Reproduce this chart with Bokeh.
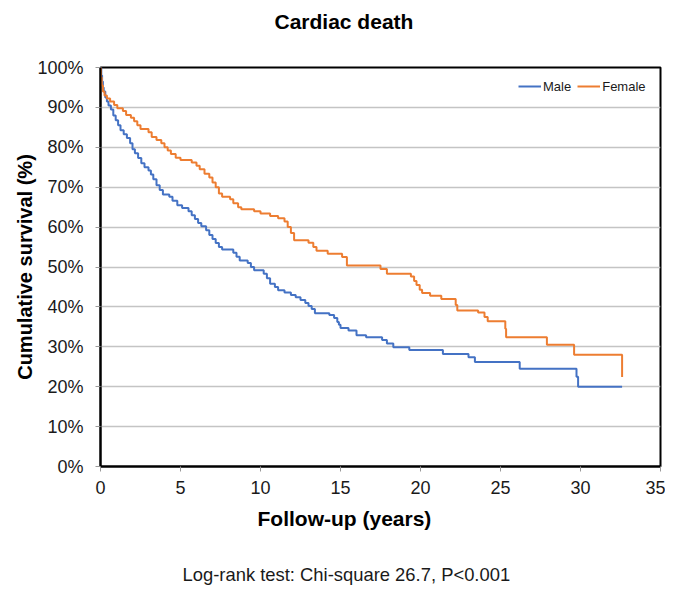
from bokeh.plotting import figure
from bokeh.models import (Range1d, FixedTicker, PrintfTickFormatter, Legend, LegendItem, Title)
from bokeh.embed import file_html
from bokeh.resources import INLINE

# ---------------- data ----------------
male_t = [0, 0.05, 0.1, 0.15, 0.2, 0.3, 0.4, 0.5, 0.65, 0.8, 0.95, 1.1, 1.25, 1.45, 1.65, 1.85,
          2.0, 2.15, 2.35, 2.55, 2.75, 3.0, 3.15, 3.3, 3.5, 3.7, 3.9, 4.3, 4.5, 4.8, 5.1, 5.5,
          5.7, 5.9, 6.1, 6.3, 6.6, 6.8, 7.0, 7.2, 7.4, 7.6, 8.3, 8.5, 8.7, 9.2, 9.4, 9.6, 10.2,
          10.4, 10.6, 10.9, 11.1, 11.5, 11.9, 12.2, 12.5, 12.8, 13.0, 13.2, 13.4, 14.3, 14.6,
          14.8, 14.9, 15.0, 15.5, 16.0, 16.6, 17.6, 17.9, 18.3, 19.3, 21.4, 23.0, 23.4, 26.2,
          29.75, 29.85, 32.6]
male_s = [100, 98, 96.5, 95, 94, 92.5, 91.5, 90.5, 89.5, 88, 86.8, 85.5, 84.3, 83.3, 82.3, 81,
          79.5, 78.5, 77.3, 76, 75, 74.2, 73.2, 72, 70.5, 69.3, 68.2, 67.6, 66.6, 65.5, 64.8, 64,
          63, 62, 61, 60.2, 59.2, 58, 57, 56, 55, 54.4, 53.6, 52.6, 51.6, 51, 50, 49.2, 48.3,
          47.2, 45.8, 45, 44.2, 43.6, 43, 42.4, 41.7, 41, 40.2, 39.5, 38.4, 38.0, 37.2,
          36.2, 35.5, 34.7, 34.1, 32.9, 32.4, 31.7, 30.8, 29.9, 29.2, 28.2, 27.4, 26.2, 24.5,
          22.5, 20.0, 20.0]

female_t = [0, 0.03, 0.08, 0.15, 0.25, 0.4, 0.6, 0.85, 1.05, 1.4, 1.6, 1.9, 2.1, 2.3, 2.5, 3.0,
            3.2, 3.5, 3.8, 4.0, 4.2, 4.4, 4.7, 5.0, 5.7, 6.0, 6.2, 6.5, 6.8, 7.0, 7.2, 7.4, 7.6,
            8.1, 8.3, 8.6, 8.8, 9.6, 10.0, 10.6, 11.1, 11.5, 11.7, 11.9, 12.1, 13.0, 13.3, 13.5,
            14.2, 15.1, 15.4, 17.5, 17.9, 19.4, 19.6, 19.75, 19.95, 20.1, 20.6, 21.3, 22.2, 22.3,
            23.6, 24.0, 24.2, 25.3, 25.35, 27.9, 29.6, 32.6]
female_s = [100, 97.5, 95.5, 94, 93, 92.2, 91.5, 90.6, 89.8, 89.1, 88.1, 87.4, 86.5, 85.5, 84.6,
            83.8, 82.6, 81.8, 81, 80, 79.2, 78.3, 77.4, 76.8, 76.2, 75.4, 74.5, 73.4, 72.4, 71.2,
            70, 68.4, 67.6, 67, 66, 65, 64.5, 64, 63.4, 62.8, 62.2, 61.4, 60, 58.5, 56.7, 56.1,
            55, 54.1, 53.3, 52.5, 50.4, 49.5, 48.3, 47.6, 46.5, 45.5, 44.3, 43.5, 42.8, 42.0,
            40.5, 39.1, 38.6, 37.5, 36.4, 34.5, 32.4, 30.5, 28.0, 22.4]

x_ticks = [0, 5, 10, 15, 20, 25, 30, 35]
y_ticks = [0, 10, 20, 30, 40, 50, 60, 70, 80, 90, 100]
series_names = ["Male", "Female"]
series_colors = ["#4472C4", "#ED7D31"]
title_text = "Cardiac death"
x_label = "Follow-up (years)"
y_label = "Cumulative survival (%)"
note_text = "Log-rank test: Chi-square 26.7, P<0.001"

FONT = "Liberation Sans"

p = figure(width=665, height=590, output_backend="svg", toolbar_location=None,
           x_range=Range1d(0, 35), y_range=Range1d(0, 100),
           min_border_left=100, min_border_right=5, min_border_top=67, min_border_bottom=124)
p.background_fill_color = "white"
p.border_fill_color = "white"
p.outline_line_color = "black"
p.outline_line_width = 2

# grid
p.xgrid.visible = False
p.ygrid.ticker = FixedTicker(ticks=y_ticks)
p.ygrid.grid_line_color = "#c4c4c4"
p.ygrid.grid_line_width = 1.5

# axes
for ax in (p.xaxis[0], p.yaxis[0]):
    ax.axis_line_color = "black"
    ax.axis_line_width = 2
    ax.major_tick_out = 5
    ax.major_tick_in = 0
    ax.minor_tick_line_color = None
    ax.major_tick_line_color = "#9a9a9a"
    ax.major_tick_line_width = 1
    ax.major_label_text_font = FONT
    ax.major_label_text_font_size = "18px"
    ax.major_label_text_color = "#1a1a1a"

p.xaxis.ticker = FixedTicker(ticks=x_ticks)
p.yaxis.ticker = FixedTicker(ticks=y_ticks)
p.yaxis.formatter = PrintfTickFormatter(format="%d%%")
p.xaxis.major_label_standoff = 9
p.yaxis.major_label_standoff = 12
p.yaxis.axis_label = y_label
p.yaxis.axis_label_text_font = FONT
p.yaxis.axis_label_text_font_style = "bold"
p.yaxis.axis_label_text_font_size = "20px"
p.yaxis.axis_label_text_color = "black"
p.yaxis.axis_label_standoff = -2

r_male = p.step(male_t, male_s, mode="after", line_color=series_colors[0], line_width=2)
r_female = p.step(female_t, female_s, mode="after", line_color=series_colors[1], line_width=2)

legend = Legend(items=[LegendItem(label=series_names[0], renderers=[r_male]),
                       LegendItem(label=series_names[1], renderers=[r_female])],
                orientation="horizontal", location=(418, 372),
                padding=0, margin=0, spacing=6, label_standoff=2,
                glyph_width=23, glyph_height=16, label_height=16,
                label_text_font=FONT, label_text_font_size="13px",
                label_text_color="#1a1a1a",
                border_line_color=None, background_fill_alpha=0)
p.add_layout(legend)

# chart title (above the frame)
p.add_layout(Title(text=title_text, align="left", offset=174, vertical_align="bottom",
                   standoff=0, padding=dict(left=0, right=0, top=0, bottom=35),
                   text_font=FONT, text_font_style="bold", text_font_size="21px",
                   text_color="black"), "above")

# x-axis title and log-rank note (below the axis)
p.add_layout(Title(text=x_label, align="left", offset=157, vertical_align="top",
                   standoff=0, padding=dict(left=0, right=0, top=10, bottom=0),
                   text_font=FONT, text_font_style="bold", text_font_size="21px",
                   text_color="black"), "below")
p.add_layout(Title(text=note_text, align="left", offset=82, vertical_align="top",
                   standoff=0, padding=dict(left=0, right=0, top=32, bottom=0),
                   text_font=FONT, text_font_style="normal", text_font_size="18.4px",
                   text_color="#1a1a1a"), "below")

open("out.html", "w").write(file_html(p, INLINE))
